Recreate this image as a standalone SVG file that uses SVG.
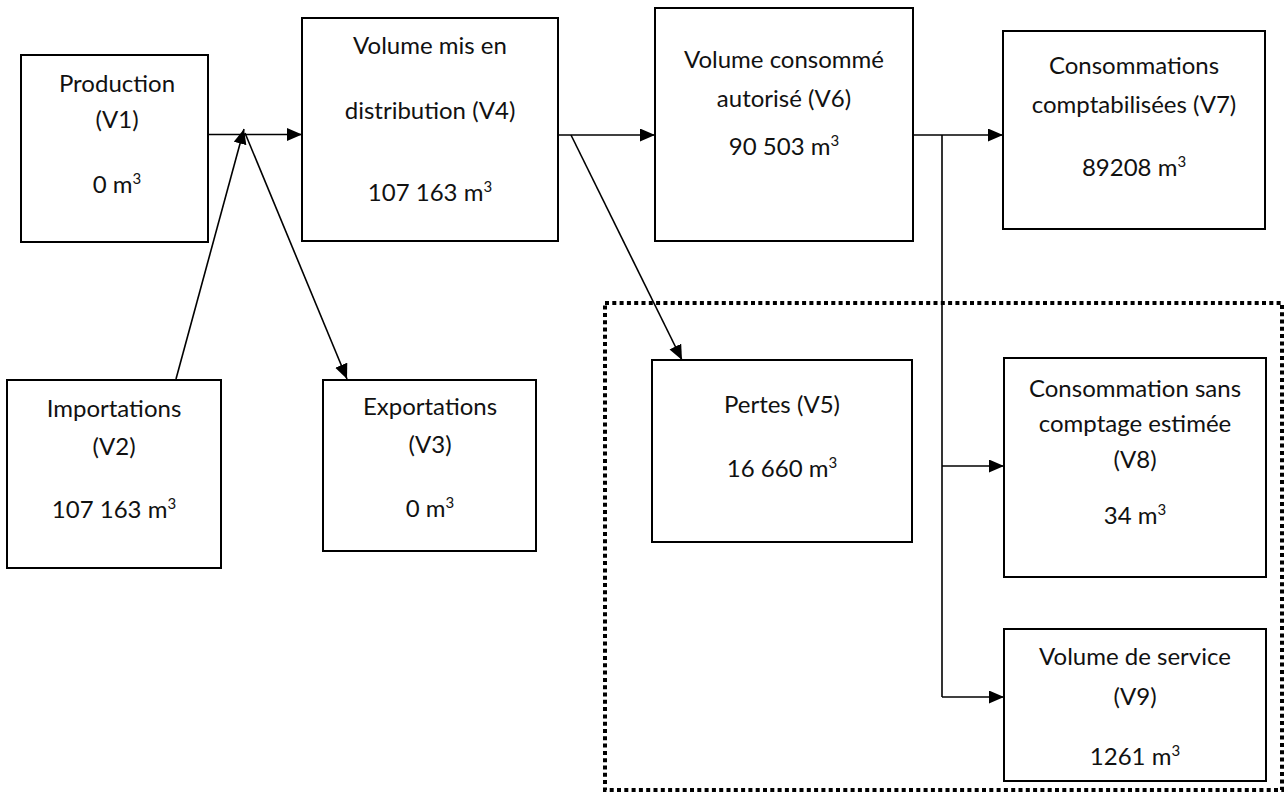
<svg xmlns="http://www.w3.org/2000/svg" width="1286" height="794" viewBox="0 0 1286 794">
<style>
.box{fill:#fff;stroke:#000;stroke-width:2}
.t{font-family:Lato,"Liberation Sans",sans-serif;font-size:24px;fill:#111;text-anchor:middle}
.c{stroke:#000;stroke-width:1.6;fill:none}
.a{marker-end:url(#ah)}
.sup{font-size:15px}
.dot{fill:none;stroke:#000;stroke-width:4;stroke-dasharray:4 3.3}
</style>
<defs>
<marker id="ah" markerUnits="userSpaceOnUse" markerWidth="16" markerHeight="14" refX="15" refY="6.5" orient="auto">
<path d="M0,0 L15,6.5 L0,13 Z" fill="#000"/>
</marker>
</defs>
<rect id="group-pertes-zone" class="dot" x="605" y="303" width="677" height="487"/>
<g id="connectors">
<line class="c a" x1="208" y1="134.5" x2="302" y2="134.5"/>
<line class="c a" x1="176" y1="379" x2="244" y2="129"/>
<line class="c a" x1="245" y1="133" x2="347" y2="379"/>
<line class="c a" x1="558" y1="135" x2="655" y2="135"/>
<line class="c a" x1="571" y1="135" x2="682" y2="360"/>
<line class="c a" x1="913" y1="135" x2="1003" y2="135"/>
<line class="c" x1="942" y1="135" x2="942" y2="697"/>
<line class="c a" x1="942" y1="466" x2="1004" y2="466"/>
<line class="c a" x1="942" y1="697" x2="1004" y2="697"/>
</g>
<g id="v1">
<rect class="box" x="21" y="55" width="187" height="187"/>
<text class="t" x="117" y="92">Production</text>
<text class="t" x="117" y="128">(V1)</text>
<text class="t" x="117" y="193">0 m<tspan class="sup" dy="-9">3</tspan></text>
</g>
<g id="v4">
<rect class="box" x="302" y="18" width="256" height="223"/>
<text class="t" x="430" y="54">Volume mis en</text>
<text class="t" x="430" y="119">distribution (V4)</text>
<text class="t" x="430" y="201">107 163 m<tspan class="sup" dy="-9">3</tspan></text>
</g>
<g id="v6">
<rect class="box" x="655" y="8" width="258" height="233"/>
<text class="t" x="784" y="68">Volume consommé</text>
<text class="t" x="784" y="107">autorisé (V6)</text>
<text class="t" x="784" y="155">90 503 m<tspan class="sup" dy="-9">3</tspan></text>
</g>
<g id="v7">
<rect class="box" x="1003" y="31" width="262" height="198"/>
<text class="t" x="1134" y="74">Consommations</text>
<text class="t" x="1134" y="113">comptabilisées (V7)</text>
<text class="t" x="1134" y="176">89208 m<tspan class="sup" dy="-9">3</tspan></text>
</g>
<g id="v2">
<rect class="box" x="7" y="380" width="214" height="188"/>
<text class="t" x="114" y="417">Importations</text>
<text class="t" x="114" y="455">(V2)</text>
<text class="t" x="114" y="518">107 163 m<tspan class="sup" dy="-9">3</tspan></text>
</g>
<g id="v3">
<rect class="box" x="323" y="380" width="213" height="171"/>
<text class="t" x="430" y="415">Exportations</text>
<text class="t" x="430" y="453">(V3)</text>
<text class="t" x="430" y="517">0 m<tspan class="sup" dy="-9">3</tspan></text>
</g>
<g id="v5">
<rect class="box" x="652" y="360" width="260" height="182"/>
<text class="t" x="782" y="413">Pertes (V5)</text>
<text class="t" x="782" y="477">16 660 m<tspan class="sup" dy="-9">3</tspan></text>
</g>
<g id="v8">
<rect class="box" x="1004" y="358" width="262" height="219"/>
<text class="t" x="1135" y="397">Consommation sans</text>
<text class="t" x="1135" y="432">comptage estimée</text>
<text class="t" x="1135" y="468">(V8)</text>
<text class="t" x="1135" y="524">34 m<tspan class="sup" dy="-9">3</tspan></text>
</g>
<g id="v9">
<rect class="box" x="1004" y="629" width="262" height="152"/>
<text class="t" x="1135" y="665">Volume de service</text>
<text class="t" x="1135" y="705">(V9)</text>
<text class="t" x="1135" y="765">1261 m<tspan class="sup" dy="-9">3</tspan></text>
</g>
</svg>
